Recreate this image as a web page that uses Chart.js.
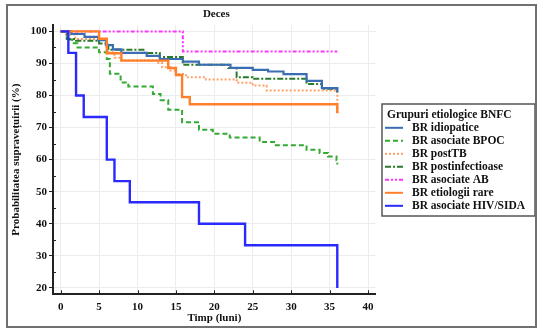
<!DOCTYPE html>
<html>
<head>
<meta charset="utf-8">
<script src="https://cdn.jsdelivr.net/npm/chart.js@4.4.1/dist/chart.umd.min.js"></script>
<style>
html,body{margin:0;padding:0;background:#fff;}
#wrap{position:relative;width:539px;height:331px;overflow:hidden;}
#frame{position:absolute;left:6px;top:4px;width:527px;height:320px;border:2px solid #707070;pointer-events:none;}
canvas{position:absolute;left:0;top:0;}
</style>
</head>
<body>
<div id="wrap">
<canvas id="c" width="539" height="331"></canvas>
<div id="frame"></div>
</div>
<script>
// ---- data (Kaplan-Meier steps: time in months, survival %) ----
const seriesNames = ["BR idiopatice","BR asociate BPOC","BR postTB","BR postinfectioase","BR asociate AB","BR etiologii rare","BR asociate HIV/SIDA"];

const idioT = [0, 1.4, 3.1, 4.9, 5.9, 6.8, 7.9, 11.2, 12.9, 15.9, 18, 22.1, 25, 27, 29, 32, 34, 36, 36];
const idioS = [100, 99.2, 98.3, 97.3, 95.7, 94.4, 93.3, 92.4, 91.4, 90.6, 89.6, 88.6, 88.0, 87.5, 86.7, 84.6, 82.3, 82.3, 81];

const bpocT = [0, 0.8, 1.5, 2.2, 5.0, 6.0, 6.4, 7.8, 8.8, 12, 13, 14, 15.8, 18, 19.8, 22, 25.9, 28, 32, 33.7, 34.8, 35.9, 36];
const bpocS = [100, 97.5, 96.3, 95.0, 93.5, 91.4, 86.8, 84.1, 82.8, 80.5, 78.5, 75.6, 71.7, 69.3, 68.1, 66.9, 65.5, 64.5, 63.1, 62.1, 61.0, 59.8, 58.5];

const tbT = [0, 0.7, 1.9, 6.0, 7.0, 7.9, 12.5, 13.2, 14.3, 15.0, 16.3, 18.9, 22.9, 25, 26.8, 36, 36];
const tbS = [100, 99.0, 97.6, 93.5, 91.8, 91.0, 90.2, 88.8, 87.8, 86.7, 85.7, 85.0, 84.0, 83.1, 81.6, 81.6, 74];

const postinfT = [0, 0.8, 2.0, 5.0, 6.2, 10.9, 12.9, 15.9, 21.8, 22.9, 25, 32, 34, 36, 36];
const postinfS = [100, 97.6, 97.1, 96.2, 94.3, 93.3, 92.0, 89.6, 88.6, 85.7, 85.2, 83.6, 82.1, 82.1, 81];

const abT = [0, 15.9, 36];
const abS = [100, 93.75, 93.75];

const rareT = [0, 5.0, 6.0, 7.9, 14.0, 15.0, 15.8, 16.8, 36, 36];
const rareS = [100, 97.7, 93.2, 90.9, 88.6, 86.4, 79.5, 77.3, 77.3, 74.5];

const hivT = [0, 1, 2, 3, 6, 7, 9, 18, 24, 36, 36];
const hivS = [100, 93.3, 80, 73.3, 60, 53.3, 46.7, 40, 33.3, 33.3, 20];

const xTicks = [0, 5, 10, 15, 20, 25, 30, 35, 40];
const yTicks = [20, 30, 40, 50, 60, 70, 80, 90, 100];

// ---- build ----
function pts(T, S){ return T.map((t,i)=>({x:t, y:S[i]})); }
const styles = [
  {c:'#3a6db2', w:2.2, d:[], o:2},
  {c:'#33aa33', w:2, d:[5,3], o:5},
  {c:'#ffa066', w:2, d:[2,2], o:4},
  {c:'#2a7a2a', w:2, d:[6,2,2,2], o:3},
  {c:'#ff33ff', w:2, d:[4,2,2,2,2,2], o:6},
  {c:'#ff7f2a', w:2.4, d:[], o:1},
  {c:'#2a2aff', w:2.4, d:[], o:0}
];
const allData = [pts(idioT,idioS), pts(bpocT,bpocS), pts(tbT,tbS), pts(postinfT,postinfS), pts(abT,abS), pts(rareT,rareS), pts(hivT,hivS)];
const datasets = allData.map((d,i)=>({
  label: seriesNames[i], data: d, stepped: 'before',
  borderColor: styles[i].c, borderWidth: styles[i].w, borderDash: styles[i].d,
  pointRadius: 0, fill: false, order: styles[i].o, tension: 0
}));

const FONT = '"Liberation Serif", "Times New Roman", serif';

const deco = {
  id: 'deco',
  afterDraw(chart){
    const ctx = chart.ctx, ca = chart.chartArea;
    const xs = chart.scales.x, ys = chart.scales.y;
    ctx.save();
    ctx.fillStyle = '#111';
    ctx.textAlign = 'center'; ctx.textBaseline = 'middle';
    ctx.font = 'bold 11px ' + FONT;
    ctx.fillText('Deces', (ca.left+ca.right)/2 + 2, 14.5);
    ctx.fillText('Timp (luni)', (ca.left+ca.right)/2, 318.5);
    ctx.save();
    ctx.translate(16.5, (ca.top+ca.bottom)/2);
    ctx.rotate(-Math.PI/2);
    ctx.fillText('Probabilitatea supravețuirii (%)', 0, 0);
    ctx.restore();
    // minor / inward ticks
    ctx.strokeStyle = '#222'; ctx.lineWidth = 1;
    for (let v = 25; v <= 95; v += 10){
      const y = Math.round(ys.getPixelForValue(v)) + 0.5;
      ctx.beginPath(); ctx.moveTo(ca.left, y); ctx.lineTo(ca.left+3, y); ctx.stroke();
    }
    xTicks.forEach(v=>{
      const x = Math.round(xs.getPixelForValue(v)) + 0.5;
      ctx.beginPath(); ctx.moveTo(x, ca.bottom); ctx.lineTo(x, ca.bottom-4); ctx.stroke();
    });
    // legend
    const lx = 382, ly = 104, lh = 112;
    ctx.fillStyle = '#fff';
    ctx.fillRect(lx, ly, 153, lh);
    ctx.strokeStyle = '#555'; ctx.lineWidth = 1.5;
    ctx.strokeRect(lx, ly, 153, lh);
    ctx.fillStyle = '#111';
    ctx.textAlign = 'left';
    ctx.font = 'bold 11.5px ' + FONT;
    ctx.fillText('Grupuri etiologice BNFC', 387, 115.5);
    seriesNames.forEach((n,i)=>{
      const y = 127.8 + i*13;
      ctx.save();
      ctx.strokeStyle = styles[i].c; ctx.lineWidth = 2;
      ctx.setLineDash(styles[i].d);
      ctx.beginPath(); ctx.moveTo(385, y); ctx.lineTo(403, y); ctx.stroke();
      ctx.restore();
      ctx.fillText(n, 412, y + 0.5);
    });
    ctx.restore();
  }
};

new Chart(document.getElementById('c'), {
  type: 'line',
  data: { datasets },
  options: {
    responsive: false, animation: false,
    layout: { padding: { top: 25, right: 163.3, left: 0, bottom: 0 } },
    plugins: { legend: { display: false }, tooltip: { enabled: false }, title: { display: false } },
    scales: {
      x: {
        type: 'linear', min: -1, max: 41,
        afterBuildTicks: s => { s.ticks = xTicks.map(v=>({value:v})); },
        afterFit: s => { s.height = 36.7; },
        grid: { color: '#ececec', lineWidth: 1, drawTicks: false },
        border: { display: true, color: '#222', width: 2 },
        ticks: { color: '#111', font: { family: FONT, size: 11, weight: 'bold' }, padding: 6, maxRotation: 0 }
      },
      y: {
        type: 'linear', min: 18, max: 102,
        afterBuildTicks: s => { s.ticks = yTicks.map(v=>({value:v})); },
        afterFit: s => { s.width = 53; },
        grid: { color: '#ececec', lineWidth: 1, drawTicks: true, tickLength: 4, tickColor: '#222' },
        border: { display: true, color: '#222', width: 2 },
        ticks: { color: '#111', font: { family: FONT, size: 11, weight: 'bold' }, padding: 2 }
      }
    }
  },
  plugins: [deco]
});
</script>
</body>
</html>
